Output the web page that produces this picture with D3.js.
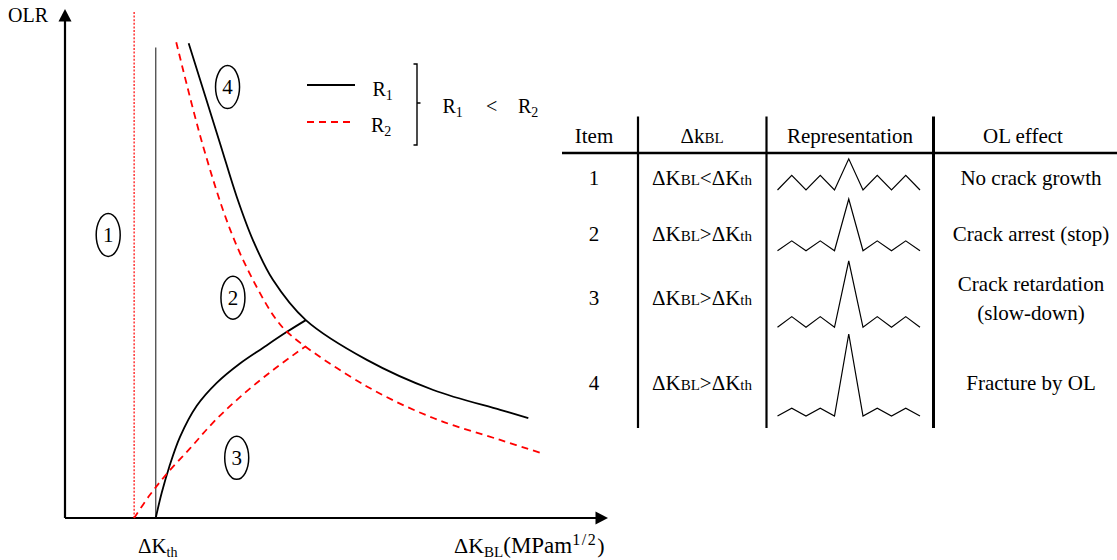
<!DOCTYPE html>
<html>
<head>
<meta charset="utf-8">
<script src="https://cdn.jsdelivr.net/npm/d3@7/dist/d3.min.js"></script>
<style>
  html, body { margin: 0; padding: 0; background: #fff; }
  svg { display: block; }
  text { font-family: "Liberation Serif", "Times New Roman", serif; fill: #000; }
</style>
</head>
<body>
<svg id="chart" width="1117" height="560" font-family="Liberation Serif, Times New Roman, serif"></svg>
<script>
// ---------------- DATA ----------------
const xDomain = [0, 100];
const yDomain = [0, 100];
const kThR1 = 16.8;   // threshold for R1 (grey solid line)
const kThR2 = 12.8;   // threshold for R2 (red dotted line)
const r1Upper = [[22.9,93.1],[28.7,73.5],[31.8,63.0],[34.8,54.5],[38.5,46.7],[44.6,38.8],[55.9,31.0],[68.2,25.1],[80.6,21.2],[85.8,19.6]];
const r2Upper = [[20.6,93.3],[25.6,72.8],[30.6,56.5],[34.8,46.7],[39.2,38.8],[42.2,35.5],[55.9,25.8],[68.2,19.6],[80.6,15.3],[88.6,12.6]];
const r1Lower = [[16.8,0],[17.9,4.9],[19.3,10.0],[21.3,15.9],[24.4,22.0],[28.1,26.5],[32.4,30.3],[36.7,33.4],[41.1,36.5],[44.6,38.8]];
const r2Lower = [[12.8,0],[15.7,4.5],[18.8,8.6],[23.2,13.7],[27.5,18.8],[32.4,23.7],[38.5,29.0],[44.6,33.7]];
const regionLabels = ["1", "2", "3", "4"];
const regionPos = [[8.0, 55.5], [31.1, 43.2], [31.8, 11.8], [30.1, 84.5]];

const headers = ["Item", "Representation", "OL effect"];
const items = ["1", "2", "3", "4"];
const relations = ["<", ">", ">", ">"];
const effects = [["No crack growth"], ["Crack arrest (stop)"], ["Crack retardation", "(slow-down)"], ["Fracture by OL"]];
const waves = [
  [0, 1.8, 0, 1.8, 0, 3.8, 0, 1.8, 0, 1.8, 0],
  [0, 1.2, 0, 1.2, 0, 6.3, 0, 1.2, 0, 1.2, 0],
  [0, 1.3, 0, 1.3, 0, 8.1, 0, 1.3, 0, 1.3, 0],
  [0, 0.95, 0, 0.95, 0, 10, 0, 0.95, 0, 0.95, 0]
];

// ---------------- LAYOUT ----------------
const svg = d3.select("#chart");
const FONT = 21, SMALL = 14;
const x = d3.scaleLinear().domain(xDomain).range([65, 605]);
const y = d3.scaleLinear().domain(yDomain).range([518, 8]);

function richText(g, px, py, parts, anchor) {
  const t = g.append("text").attr("x", px).attr("y", py)
    .attr("text-anchor", anchor || "start");
  parts.forEach(p => {
    const ts = t.append("tspan").attr("font-size", p.s || FONT).text(p.t);
    if (p.dy) ts.attr("dy", p.dy);
    if (p.ls) ts.attr("letter-spacing", p.ls);
  });
  return t;
}

// axes
const axes = svg.append("g");
axes.append("line").attr("x1", x(0)).attr("x2", x(0)).attr("y1", y(0)).attr("y2", 20)
  .attr("stroke", "#000").attr("stroke-width", 2.2);
axes.append("line").attr("x1", x(0)).attr("x2", 597).attr("y1", y(0)).attr("y2", y(0))
  .attr("stroke", "#000").attr("stroke-width", 2.2);
axes.append("path").attr("d", `M${x(0)},9 L${x(0)-6.5},21.5 L${x(0)+6.5},21.5 Z`).attr("fill", "#000");
axes.append("path").attr("d", `M608,${y(0)} L595.5,${y(0)-6.5} L595.5,${y(0)+6.5} Z`).attr("fill", "#000");
richText(axes, 8, 22, [{t: "OLR", s: 20}]);
richText(axes, x(kThR1) + 2, 553, [{t: "ΔK"}, {t: "th", s: SMALL, dy: 4}], "middle");
richText(axes, 454, 553, [{t: "ΔK", s: 22}, {t: "BL", s: 15, dy: 4}, {t: "(MPam", s: 23, dy: -4}, {t: "1/2", s: 16, dy: -8, ls: 1.5}, {t: ")", s: 22, dy: 8}]);

// threshold lines
svg.append("line").attr("x1", x(kThR2)).attr("x2", x(kThR2)).attr("y1", 12).attr("y2", y(0))
  .attr("stroke", "#ff0000").attr("stroke-width", 1.2).attr("stroke-dasharray", "2,1.6");
svg.append("line").attr("x1", x(kThR1)).attr("x2", x(kThR1)).attr("y1", 47.5).attr("y2", y(0))
  .attr("stroke", "#555").attr("stroke-width", 1.4);

// curves
const line = d3.line().x(d => x(d[0])).y(d => y(d[1])).curve(d3.curveCatmullRom.alpha(0.5));
const curves = svg.append("g").attr("fill", "none");
[r1Upper, r1Lower].forEach(d => curves.append("path").attr("d", line(d))
  .attr("stroke", "#000").attr("stroke-width", 1.8));
[r2Upper, r2Lower].forEach(d => curves.append("path").attr("d", line(d))
  .attr("stroke", "#ff0000").attr("stroke-width", 1.8).attr("stroke-dasharray", "7,5"));

// circled region labels
const regions = svg.append("g");
regionLabels.forEach((lab, i) => {
  const cx = x(regionPos[i][0]), cy = y(regionPos[i][1]);
  regions.append("ellipse").attr("cx", cx).attr("cy", cy).attr("rx", 12).attr("ry", 21.5)
    .attr("fill", "none").attr("stroke", "#000").attr("stroke-width", 1.5);
  regions.append("text").attr("x", cx).attr("y", cy + 7).attr("text-anchor", "middle")
    .attr("font-size", FONT).text(lab);
});

// legend
const lg = svg.append("g");
lg.append("line").attr("x1", 307).attr("x2", 355).attr("y1", 85).attr("y2", 85)
  .attr("stroke", "#000").attr("stroke-width", 1.8);
lg.append("line").attr("x1", 307).attr("x2", 352).attr("y1", 122).attr("y2", 122)
  .attr("stroke", "#ff0000").attr("stroke-width", 1.8).attr("stroke-dasharray", "7,5");
richText(lg, 372.5, 96, [{t: "R", s: 20}, {t: "1", s: SMALL, dy: 4}]);
richText(lg, 371, 132, [{t: "R", s: 20}, {t: "2", s: SMALL, dy: 4}]);
lg.append("path").attr("d", "M413.5,64 H417 V145 H413.5 M417,103 H420.5")
  .attr("fill", "none").attr("stroke", "#000").attr("stroke-width", 1.4);
richText(lg, 442.5, 113, [{t: "R", s: 20}, {t: "1", s: SMALL, dy: 4}]);
richText(lg, 486, 113, [{t: "<", s: 20}]);
richText(lg, 518, 113, [{t: "R", s: 20}, {t: "2", s: SMALL, dy: 4}]);

// ---------------- TABLE ----------------
const tb = svg.append("g");
const colX = [594, 702, 850, 1031];
const vLines = [638, 766.5, 933.5];
const rowText = [185, 241, 305, 390];
const waveBase = [190, 250.7, 327.3, 416];
tb.append("line").attr("x1", 562).attr("x2", 1117).attr("y1", 153).attr("y2", 153)
  .attr("stroke", "#000").attr("stroke-width", 2.4);
vLines.forEach((vx, i) => tb.append("line").attr("x1", vx).attr("x2", vx)
  .attr("y1", 116.5).attr("y2", 428).attr("stroke", "#000").attr("stroke-width", i === 2 ? 3 : 2.2));

richText(tb, colX[0], 143, [{t: headers[0]}], "middle");
richText(tb, colX[1], 143, [{t: "Δk"}, {t: "BL", s: 15}], "middle");
richText(tb, colX[2], 143, [{t: headers[1]}], "middle");
richText(tb, colX[3] - 8, 143, [{t: headers[2]}], "middle");

const wx = d3.scaleLinear().domain([0, 10]).range([777.5, 920]);
const amp = d3.scaleLinear().domain([0, 10]).range([0, 82]);
items.forEach((it, i) => {
  richText(tb, colX[0], rowText[i], [{t: it}], "middle");
  richText(tb, colX[1], rowText[i], [{t: "ΔK"}, {t: "BL", s: 15}, {t: relations[i] + "ΔK"}, {t: "th", s: 15}], "middle");
  const ef = effects[i];
  if (ef.length === 1) {
    richText(tb, colX[3], rowText[i], [{t: ef[0]}], "middle");
  } else {
    richText(tb, colX[3], 291, [{t: ef[0]}], "middle");
    richText(tb, colX[3], 320, [{t: ef[1]}], "middle");
  }
  const wl = d3.line().x((d, j) => wx(j)).y(d => waveBase[i] - amp(d));
  tb.append("path").attr("d", wl(waves[i])).attr("fill", "none")
    .attr("stroke", "#000").attr("stroke-width", 1.2).attr("stroke-linejoin", "miter");
});
</script>
</body>
</html>
